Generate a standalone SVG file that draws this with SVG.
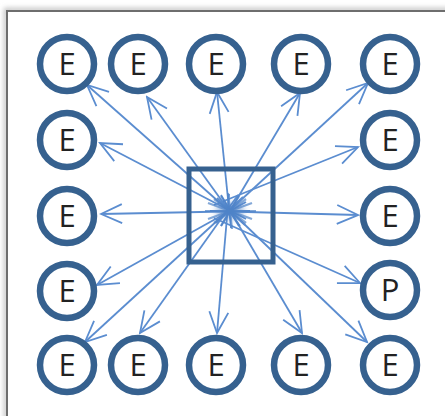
<svg xmlns="http://www.w3.org/2000/svg" width="445" height="416" viewBox="0 0 445 416">
  <style>
    .node circle { fill: #ffffff; stroke: #36618f; stroke-width: 6.5; }
    .node text { font-family: "Open Sans", "Liberation Sans", sans-serif; font-size: 31px; fill: #222222; text-anchor: middle; }
    .hub rect { fill: none; stroke: #36618f; stroke-width: 5; }
    .edges line { stroke: #5b8dd0; stroke-width: 1.8; fill: none; }
    .edges .a { marker-end: url(#arr); }
    .burst line { stroke: #4f83c8; stroke-width: 2.2; stroke-opacity: 0.7; }
  </style>
  <defs>
    <marker id="arr" markerUnits="userSpaceOnUse" viewBox="-24 -12 26 24" markerWidth="26" markerHeight="24" refX="0" refY="0" orient="auto">
      <path d="M-21,-9.5 L0,0 L-21,9.5" fill="none" stroke="#5b8dd0" stroke-width="1.8"/>
    </marker>
    <filter id="sh" x="-10%" y="-10%" width="120%" height="120%">
      <feGaussianBlur stdDeviation="2.5"/>
    </filter>
    <filter id="bl" x="-50%" y="-50%" width="200%" height="200%">
      <feGaussianBlur stdDeviation="3"/>
    </filter>
  </defs>
  <rect x="0" y="0" width="445" height="416" fill="#ffffff"/>
  <!-- frame -->
  <rect x="6" y="10" width="460" height="420" fill="none" stroke="#bdbdbd" stroke-width="4" filter="url(#sh)"/>
  <rect x="7" y="11" width="460" height="420" fill="#ffffff" stroke="#6e6e6e" stroke-width="2"/>

  <g class="edges" id="connectors">
    <line class="a" x1="245" y1="225" x2="87" y2="85"/>
    <line class="a" x1="240" y1="226" x2="147" y2="97"/>
    <line class="a" x1="231" y1="228" x2="217" y2="92"/>
    <line class="a" x1="221" y1="226" x2="300" y2="93"/>
    <line class="a" x1="216" y1="223" x2="368" y2="83"/>
    <line class="a" x1="246" y1="219" x2="100" y2="143"/>
    <line class="a" x1="214" y1="205" x2="358" y2="147"/>
    <line class="a" x1="250" y1="211" x2="101" y2="214"/>
    <line class="a" x1="210" y1="211" x2="358" y2="215"/>
    <line class="a" x1="246" y1="202" x2="97" y2="285"/>
    <line class="a" x1="214" y1="218" x2="360" y2="283"/>
    <line class="a" x1="243" y1="197" x2="85" y2="342"/>
    <line class="a" x1="238" y1="195" x2="140" y2="333"/>
    <line class="a" x1="229" y1="194" x2="217" y2="333"/>
    <line class="a" x1="221" y1="195" x2="302" y2="333"/>
    <line class="a" x1="217" y1="198" x2="367" y2="342"/>
    <g class="burst">
      <ellipse cx="230" cy="211" rx="14" ry="8" fill="#4f83c8" fill-opacity="0.6" filter="url(#bl)"/>
      <line x1="205" y1="211" x2="256" y2="211"/>
      <line x1="208" y1="203" x2="252" y2="219"/>
      <line x1="208" y1="219" x2="252" y2="203"/>
      <line x1="228" y1="193" x2="232" y2="229"/>
      <line x1="221" y1="196" x2="239" y2="226"/>
      <line x1="239" y1="196" x2="221" y2="226"/>
      <line x1="214" y1="199" x2="246" y2="223"/>
      <line x1="246" y1="199" x2="214" y2="223"/>
    </g>
  </g>

  <g class="hub" id="hub"><rect x="189" y="169" width="84" height="93"/></g>

  <g class="node" id="n-t1"><circle cx="67" cy="64" r="27"/><text x="67" y="75">E</text></g>
  <g class="node" id="n-t2"><circle cx="138" cy="64" r="27"/><text x="138" y="75">E</text></g>
  <g class="node" id="n-t3"><circle cx="216" cy="64" r="27"/><text x="216" y="75">E</text></g>
  <g class="node" id="n-t4"><circle cx="301" cy="64" r="27"/><text x="301" y="75">E</text></g>
  <g class="node" id="n-t5"><circle cx="390" cy="64" r="27"/><text x="390" y="75">E</text></g>

  <g class="node" id="n-l2"><circle cx="67" cy="140" r="27"/><text x="67" y="151">E</text></g>
  <g class="node" id="n-l3"><circle cx="67" cy="216" r="27"/><text x="67" y="227">E</text></g>
  <g class="node" id="n-l4"><circle cx="67" cy="291" r="27"/><text x="67" y="302">E</text></g>

  <g class="node" id="n-r2"><circle cx="390" cy="140" r="27"/><text x="390" y="151">E</text></g>
  <g class="node" id="n-r3"><circle cx="390" cy="216" r="27"/><text x="390" y="227">E</text></g>
  <g class="node" id="n-r4"><circle cx="390" cy="290" r="27"/><text x="390" y="301">P</text></g>

  <g class="node" id="n-b1"><circle cx="67" cy="365" r="27"/><text x="67" y="376">E</text></g>
  <g class="node" id="n-b2"><circle cx="138" cy="365" r="27"/><text x="138" y="376">E</text></g>
  <g class="node" id="n-b3"><circle cx="216" cy="365" r="27"/><text x="216" y="376">E</text></g>
  <g class="node" id="n-b4"><circle cx="301" cy="365" r="27"/><text x="301" y="376">E</text></g>
  <g class="node" id="n-b5"><circle cx="390" cy="365" r="27"/><text x="390" y="376">E</text></g>
</svg>
